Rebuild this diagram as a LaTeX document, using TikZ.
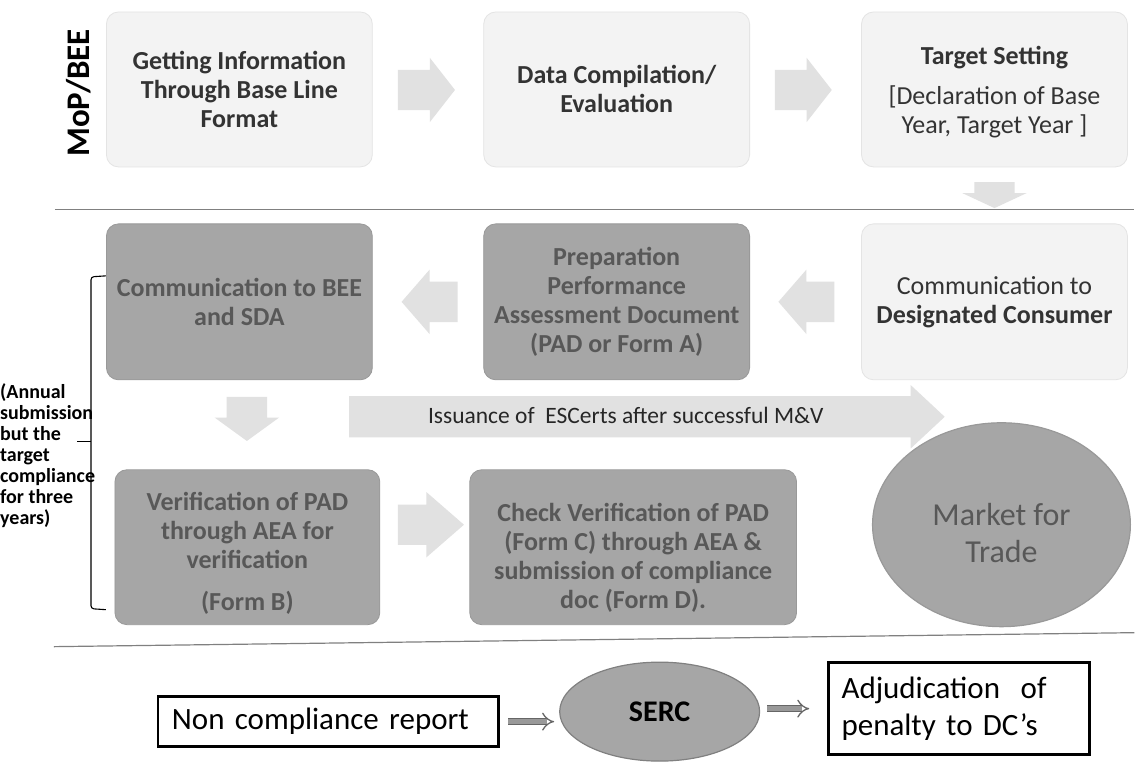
\documentclass[tikz,border=0pt]{standalone}
\usepackage{fontspec}
\setmainfont{Carlito}
\usetikzlibrary{positioning, arrows.meta, shapes.geometric, shapes.arrows}

\definecolor{lightfill}{HTML}{F3F3F3}
\definecolor{lightedge}{HTML}{E4E4E4}
\definecolor{darkfill}{HTML}{A6A6A6}
\definecolor{darkedge}{HTML}{999999}
\definecolor{arrowfill}{HTML}{E1E1E1}
\definecolor{darktext}{HTML}{585858}
\definecolor{inktext}{HTML}{333333}

\newcommand\boxfont{\fontsize{26}{29}\selectfont}

\tikzset{
	lightbox/.style={rounded corners=12pt, fill=lightfill, draw=lightedge, line width=0.8pt, minimum width=266pt, minimum height=155pt, text=inktext, align=center, inner sep=0pt, font=\boxfont},
	darkbox/.style={lightbox, fill=darkfill, draw=darkedge, text=darktext, font=\boxfont\bfseries},
	blockarr/.style={single arrow, fill=arrowfill, draw=none, inner sep=0pt, text height=20pt, text depth=20pt, single arrow head extend=12pt, minimum height=#1, anchor=tail},
	sepline/.style={draw=black!50, line width=1.2pt},
	plainbox/.style={draw=black, line width=2.6pt, fill=white, inner sep=0pt, align=left, font=\fontsize{31}{37}\selectfont},
	greyoval/.style={ellipse, fill=darkfill, draw=black!50, line width=1.2pt, inner sep=0pt, align=center},
	dblarr/.style={draw=black!60, double=black!40, double distance=5pt, line width=1.3pt, -{Implies[scale=1.25]}}
}

\begin{document}
\begin{tikzpicture}[x=1pt, y=-1pt]
	\fill[white] (0,0) rectangle (1135,761);

	% MoP/BEE row
	\node (mop) at (79,93) [rotate=90, font=\bfseries\fontsize{33}{33}\selectfont] {MoP/BEE};
	\node (getinfo) at (239.5,89.5) [lightbox, font=\boxfont\bfseries] {Getting Information\\Through Base Line\\Format};
	\node (datacomp) at (617,89.5) [lightbox, font=\boxfont\bfseries] {Data Compilation/\\Evaluation};
	\node (target) at (995,89.5) [lightbox] {\rule{0pt}{24pt}\textbf{Target Setting}\\[11pt]{[}Declaration of Base\\Year, Target Year ]};
	\node (ar1) at (398,90) [blockarr=57pt, single arrow tip angle=104] {};
	\node (ar2) at (775,90) [blockarr=57pt, single arrow tip angle=104] {};
	\node (ar3) at (995,182) [blockarr=26pt, rotate=-90, single arrow tip angle=130] {};

	\draw[sepline] (55,210) -- (1135,210);

	% designated consumer row
	\node (commdc) at (995,302) [lightbox, minimum height=156pt] {Communication to\\\textbf{Designated Consumer}};
	\node (prep) at (617,302) [darkbox, minimum height=156pt] {Preparation\\Performance\\Assessment Document\\(PAD or Form A)};
	\node (commbee) at (239.5,302) [darkbox, minimum height=156pt] {Communication to BEE\\and SDA};
	\node (ar4) at (835,302) [blockarr=56pt, rotate=180, single arrow tip angle=98] {};
	\node (ar5) at (458,302) [blockarr=56pt, rotate=180, single arrow tip angle=98] {};
	\node (ar6) at (247,397) [blockarr=44pt, rotate=-90, single arrow tip angle=108] {};
	\node (issue) at (349,417) [blockarr=596pt, text height=27pt, text depth=14pt, single arrow head extend=11pt, single arrow tip angle=86, text=black!85, font=\fontsize{23.5}{26}\selectfont] {Issuance of\ \ ESCerts after successful M\&V\hspace*{20pt}};

	\node (verify) at (247.5,547.5) [darkbox, minimum width=265pt] {\rule{0pt}{30pt}Verification of PAD\\through AEA for\\verification\\[13pt](Form B)};
	\node (check) at (633.5,547.5) [darkbox, minimum width=327pt] {\rule{0pt}{40pt}Check Verification of PAD\\(Form C) through AEA \&\\submission of compliance\\doc (Form D).};
	\node (ar7) at (398,525) [blockarr=66pt, single arrow head extend=12.5pt, single arrow tip angle=82] {};
	\node (market) at (1002,525) [greyoval, minimum width=258pt, minimum height=204pt, draw=black!40, text=darktext, font=\fontsize{32}{37}\selectfont] {\rule{0pt}{38pt}Market for\\Trade};

	% annual note with brace
	\node (note) at (0,384) [anchor=north west, align=left, inner sep=0pt, font=\bfseries\fontsize{20}{21}\selectfont] {(Annual\\submission\\but the\\target\\compliance\\for three\\years)};
	\draw[line width=1.1pt, rounded corners=3pt] (106,276) -- (91,277) -- (91,609) -- (106,610);
	\draw[line width=1.1pt] (91,442) -- (77,442);

	\draw[sepline] (54,647) -- (1135,633);

	% penalty row
	\node (noncomp) at (328.5,722) [plainbox, minimum width=341pt, minimum height=50pt, text width=313pt] {Non compliance report};
	\node (serc) at (660,712) [greyoval, minimum width=200pt, minimum height=99pt, font=\bfseries\fontsize{30}{30}\selectfont] {SERC};
	\node (adjud) at (959.5,709) [plainbox, minimum width=261pt, minimum height=92pt, text width=235pt] {Adjudication\ \ of\\penalty to DC’s};
	\draw[dblarr, shorten <=8pt, shorten >=5pt] (noncomp.east) -- (noncomp.east -| serc.west);
	\draw[dblarr, shorten <=7pt, shorten >=18pt] (serc.east |- adjud.west) -- (adjud.west);
\end{tikzpicture}
\end{document}
